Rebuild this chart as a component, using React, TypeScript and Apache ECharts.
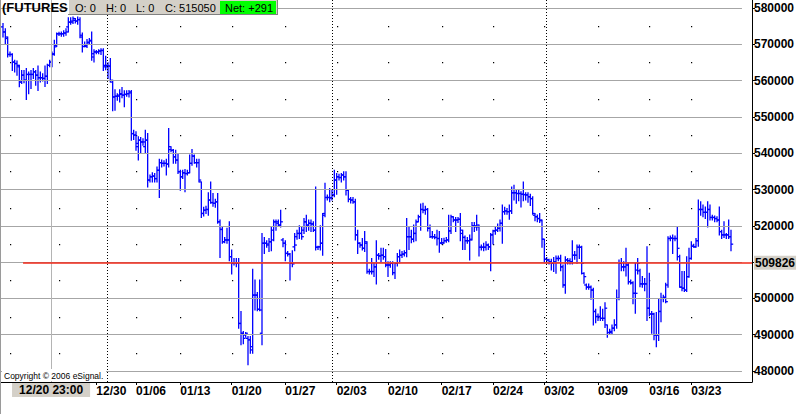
import React, { useEffect, useRef } from 'react';
import * as echarts from 'echarts';

// ---- OHLC data (one entry per bar, left to right) ----
const opens = [
  574800, 573400, 571600, 567200, 567200, 565100, 564700, 563800, 559600, 561500,
  560100, 561700, 561700, 561700, 562400, 561500, 560800, 560800, 560600, 561200,
  564200, 565100, 567400, 569700, 572900, 572900, 572900, 573100, 574800, 576100,
  576400, 576600, 576400, 576800, 572000, 569400, 569700, 570600, 571100, 567400,
  567900, 567900, 568200, 568300, 564200, 563800, 564000, 559600, 555500, 555700,
  556000, 556400, 556000, 556200, 556400, 556900, 545400, 545000, 542700, 543600,
  543100, 541800, 543600, 532600, 533500, 533700, 533000, 535300, 537400, 537200,
  537200, 537000, 541000, 540800, 539000, 538100, 534900, 533500, 534600, 534400,
  534600, 537200, 539200, 537400, 537400, 532100, 523400, 524300, 524500, 527100,
  526400, 526200, 526600, 521100, 519000, 515600, 516100, 516100, 511500, 509700,
  509800, 509700, 493100, 490400, 489900, 489000, 488600, 486700, 500900, 500900,
  497000, 490400, 515200, 515200, 514700, 515600, 518800, 521100, 520700, 520200,
  516100, 515200, 512400, 512200, 509700, 514200, 517000, 517900, 517900, 518800,
  521100, 520200, 520700, 520500, 518800, 514100, 514200, 515200, 523400, 527800,
  527800, 527700, 528500, 532600, 533500, 533300, 534000, 533500, 529800, 527300,
  527100, 526600, 517500, 515200, 514700, 513800, 515200, 507400, 507400, 507400,
  508700, 511900, 511700, 511900, 511500, 509200, 509200, 509700, 507100, 509700,
  511500, 511900, 512200, 512600, 517000, 517000, 516300, 517900, 521100, 522500,
  524500, 524300, 524500, 519300, 517000, 517000, 516800, 516500, 515300, 515300,
  515900, 516100, 518600, 522500, 521600, 521600, 521800, 517900, 516800, 515900,
  515900, 516300, 520000, 519700, 519700, 514100, 514100, 514100, 514700, 514200,
  517500, 518600, 518800, 519300, 520700, 523900, 524100, 523900, 524100, 529100,
  529100, 528900, 528900, 528700, 528600, 528500, 528000, 527500, 522900, 522500,
  522000, 521400, 516300, 510800, 510600, 510100, 509700, 510100, 511000, 511000,
  508700, 503700, 510600, 510400, 510100, 511900, 511900, 514100, 514100, 506900,
  503700, 503100, 503100, 502300, 496400, 495000, 495000, 494500, 494500, 492700,
  490600, 490900, 491800, 492700, 500000, 509700, 508700, 508700, 509200, 504600,
  504300, 501400, 507800, 507600, 504000, 504000, 504000, 497300, 495700, 495700,
  489900, 489900, 496400, 500000, 500300, 503700, 516500, 516600, 516500, 516500,
  511500, 503100, 502800, 502300, 506000, 511000, 514400, 514200, 515900, 524500,
  524500, 523700, 523700, 524500, 522300, 522300, 522000, 521600, 518400, 517500,
  517500, 517500, 517000,
];
const highs = [
  575700, 574300, 572000, 567900, 567400, 565600, 565400, 564200, 562800, 562800,
  563300, 562400, 562800, 563300, 562800, 564000, 562400, 561900, 564000, 564500,
  565600, 567900, 571100, 573100, 573300, 573400, 573700, 574300, 577300, 577300,
  577500, 577100, 577500, 577300, 573100, 570600, 571300, 571600, 573400, 568500,
  568300, 568500, 568800, 568800, 566700, 564900, 566100, 560100, 557500, 556400,
  557500, 558100, 557200, 557200, 557300, 557300, 546300, 545900, 544500, 544300,
  544000, 546300, 545400, 534000, 534600, 534400, 536200, 538300, 538100, 537900,
  538300, 546800, 541800, 541000, 540800, 539900, 535300, 535300, 535500, 535300,
  539500, 541000, 539500, 538300, 538300, 532100, 525100, 525400, 529100, 532100,
  528900, 527300, 528900, 521600, 519700, 516800, 519300, 521100, 513300, 511000,
  511000, 511000, 496400, 490900, 490600, 489500, 489500, 508000, 505100, 501600,
  505100, 517900, 516800, 515900, 516500, 519700, 521600, 521600, 521600, 524300,
  516500, 515900, 512900, 512400, 513100, 517900, 518800, 520000, 519700, 522000,
  522900, 521600, 521600, 521100, 530700, 514400, 520000, 523400, 531700, 528500,
  530300, 529800, 535300, 534400, 534200, 534400, 534900, 534900, 529800, 527800,
  527800, 527300, 518800, 515300, 516500, 518400, 515600, 508000, 511000, 509700,
  515900, 512400, 513800, 513800, 513500, 510100, 510100, 510100, 509800, 512400,
  513300, 512900, 513100, 522000, 519700, 518800, 520200, 521600, 522900, 526000,
  526200, 525400, 524800, 520200, 518400, 517600, 518800, 518400, 516500, 516600,
  516800, 522900, 522900, 522500, 522300, 522300, 523400, 518800, 517200, 516800,
  517500, 520900, 520900, 522900, 520200, 514700, 515200, 515600, 515000, 517900,
  518800, 519700, 520500, 521600, 525700, 525100, 524800, 525700, 530700, 531200,
  530000, 529800, 529400, 532100, 529100, 529100, 528700, 528000, 523400, 523000,
  523400, 521600, 516300, 511300, 510800, 510800, 511300, 511700, 511700, 511900,
  509200, 511500, 511000, 510900, 515900, 512900, 514700, 514700, 514400, 507100,
  504000, 504000, 503400, 502800, 497000, 495700, 497700, 497000, 498800, 492700,
  491500, 492700, 494100, 502300, 510600, 511000, 510100, 513800, 509700, 505100,
  504600, 509700, 511000, 508000, 506000, 505500, 514200, 506900, 496400, 495900,
  496100, 500000, 501400, 500900, 504200, 517000, 517200, 517500, 517200, 519700,
  511900, 507400, 507400, 511500, 513800, 515600, 514900, 516500, 527100, 526600,
  525700, 525200, 526600, 525700, 522900, 522700, 522500, 525200, 518800, 521100,
  517900, 521600, 518800,
];
const lows = [
  572000, 570200, 566500, 566700, 562800, 562400, 561500, 558300, 559200, 559400,
  554800, 556400, 557800, 560600, 558700, 557300, 559600, 559900, 558400, 559200,
  563800, 563800, 567000, 569400, 572400, 572200, 572200, 572500, 573400, 575500,
  575700, 575900, 575500, 571800, 567900, 569300, 569100, 570200, 565600, 565100,
  567400, 567400, 567200, 562800, 563000, 560600, 559600, 551700, 551800, 554600,
  554100, 555300, 552800, 555700, 555500, 543600, 543800, 540800, 538100, 539900,
  542200, 539900, 530700, 532100, 532100, 532100, 532100, 527800, 536200, 536500,
  534000, 536200, 540400, 537200, 537200, 534400, 529800, 533000, 529400, 534000,
  534600, 536700, 537200, 536200, 532100, 522300, 522700, 523400, 522900, 526200,
  525400, 525100, 520700, 511300, 515200, 515300, 515200, 510400, 506700, 509200,
  508700, 491800, 487200, 487500, 489300, 481700, 484900, 484900, 496800, 496600,
  496600, 487200, 512400, 514100, 512900, 513100, 515900, 518800, 520000, 519700,
  514200, 510400, 511700, 505100, 508700, 513100, 516300, 516500, 516300, 517900,
  518400, 518800, 518400, 518400, 513300, 513500, 513300, 511900, 522500, 527100,
  526600, 527100, 528000, 528700, 532600, 532100, 532600, 528500, 526600, 526300,
  526200, 516100, 512400, 514100, 513300, 512900, 506900, 506700, 506700, 506000,
  504000, 510800, 510100, 510800, 508700, 506000, 508600, 506500, 505500, 508900,
  509800, 511300, 511700, 511500, 513500, 515300, 515600, 515900, 521100, 518800,
  523600, 523200, 518600, 516800, 516600, 516400, 514700, 512700, 515000, 515200,
  515500, 515600, 517900, 521100, 518400, 520900, 515900, 513500, 513500, 515200,
  510600, 516100, 518400, 518800, 511700, 513300, 513100, 513300, 513500, 507600,
  515000, 517700, 518400, 518600, 515200, 523200, 523200, 521800, 523400, 527100,
  526200, 526900, 525200, 526900, 527100, 526500, 525600, 523200, 521400, 521100,
  520900, 514100, 509800, 509800, 509500, 507800, 507400, 506900, 510400, 507600,
  503100, 501400, 509500, 509500, 509500, 510800, 509700, 511000, 506700, 504200,
  502500, 502500, 499800, 492700, 493300, 493900, 493900, 493900, 492000, 489300,
  490200, 490200, 491100, 491800, 499600, 507600, 507600, 506200, 504000, 504000,
  498500, 495900, 506700, 503200, 503100, 502100, 493900, 495200, 490400, 488600,
  486700, 488400, 493600, 499100, 498800, 503100, 515900, 512400, 515900, 510600,
  503100, 502100, 501900, 501900, 505800, 510800, 514100, 514100, 514400, 522900,
  522500, 522000, 519700, 521600, 521600, 521100, 521100, 517500, 516500, 516800,
  516500, 516500, 513100,
];
const closes = [
  573400, 572000, 567200, 567200, 565100, 564700, 564200, 559600, 561500, 560100,
  561700, 561700, 561700, 562400, 561500, 560800, 560800, 560600, 561200, 564200,
  565100, 567200, 569300, 572900, 572900, 572900, 573100, 573400, 576100, 576100,
  577100, 576400, 576800, 572500, 569400, 569400, 570400, 570900, 566500, 567900,
  567900, 568100, 568300, 563800, 564200, 564000, 560100, 555500, 555700, 555700,
  556200, 556000, 556200, 556400, 556600, 545400, 545000, 541800, 543600, 543100,
  543100, 543600, 532600, 533500, 533700, 533000, 535300, 537400, 537200, 537200,
  537000, 541800, 540800, 539000, 538100, 534900, 533500, 534600, 534400, 534600,
  537200, 539200, 537400, 537400, 532600, 523400, 524300, 524500, 527100, 526400,
  526200, 526600, 521100, 519000, 515600, 516100, 516100, 511500, 509700, 509800,
  509700, 493100, 490400, 489000, 490400, 488600, 485800, 500900, 500900, 497000,
  496800, 515200, 515200, 515000, 515600, 516100, 521100, 521100, 520200, 521100,
  515200, 512400, 512200, 509700, 509500, 514700, 517900, 517900, 517000, 521100,
  520200, 520700, 520500, 518800, 514100, 514200, 515200, 522900, 527800, 527800,
  527700, 528500, 532600, 533500, 533300, 534000, 533500, 529800, 527300, 527100,
  526600, 517500, 515200, 514700, 513800, 515600, 507400, 507400, 507400, 508700,
  511900, 511700, 511900, 511500, 509200, 509200, 509700, 507100, 509700, 511500,
  511900, 512200, 512600, 517000, 517000, 516300, 517900, 521100, 522500, 524500,
  524300, 524500, 519300, 517000, 517000, 516800, 516500, 515200, 515300, 515900,
  516100, 518600, 522500, 521600, 521600, 521800, 518800, 516800, 515900, 515900,
  516100, 520000, 520000, 520200, 514100, 514100, 514100, 514700, 514200, 517500,
  518600, 518800, 519300, 520700, 523900, 524100, 523900, 524100, 529100, 529100,
  528900, 528900, 528700, 528600, 528500, 528000, 527500, 523400, 522500, 522000,
  521600, 516300, 510800, 510600, 510100, 509700, 510100, 511000, 511000, 508700,
  503700, 510600, 510400, 510100, 511900, 511900, 514100, 514100, 509700, 506000,
  503100, 503100, 502300, 496400, 495000, 495000, 494500, 494500, 497300, 490600,
  490600, 491800, 492700, 500000, 509700, 508700, 508700, 509200, 504600, 504300,
  501400, 501400, 509700, 504000, 504000, 504000, 497300, 495700, 495700, 489900,
  489900, 496400, 500000, 500300, 499100, 516500, 516600, 516500, 516500, 513800,
  503100, 502800, 502300, 506000, 511000, 514400, 514200, 515900, 524500, 524500,
  523700, 523700, 524500, 522300, 522300, 522000, 521600, 518400, 517500, 517500,
  517500, 517000, 514941,
];

// ---- axes / annotations ----
const weekTicks = [40, 57, 76, 98, 121, 143, 165, 188, 210, 232, 255, 277, 295];
const weekLabels = ['12/30', '01/06', '01/13', '01/20', '01/27', '02/03', '02/10', '02/17', '02/24', '03/02', '03/09', '03/16', '03/23'];
const dotColumns = [3, 24, 57, 76, 98, 121, 143, 165, 188, 210, 232, 255, 277, 295];
const priceLevels = [480000, 490000, 500000, 510000, 520000, 530000, 540000, 550000, 560000, 570000, 580000];
const labelLevels = [480000, 490000, 500000, 520000, 530000, 540000, 550000, 560000, 570000, 580000];
const midLevels = [485000, 495000, 505000, 515000, 525000, 535000, 545000, 555000, 565000, 575000];
const monthBreaks = [44.6, 141, 232.7];
const cursorIndex = 20.6;
const cursorLabel = '12/20 23:00';
const refStartIndex = 8.6;
const refPrice = 509826;
const lastPrice = 514941;
const headerTitle = '(FUTURES;';
const headerFields = ['O: 0', 'H: 0', 'L: 0', 'C: 515050'];
const netText = 'Net: +291';
const copyrightText = 'Copyright \u00a9 2006 eSignal.';

const X_MIN = -1.286;
const X_MAX = 321.0;
const Y_MIN = 476970;
const Y_MAX = 582204;
const GRID_START = -1.1;
const GRID_END = 316.7;
const FONT = 'Liberation Sans, Arial, Helvetica, sans-serif';

export default function App() {
  const ref = useRef<HTMLDivElement>(null);

  useEffect(() => {
    if (!ref.current) return;
    const chart = echarts.init(ref.current, undefined, { renderer: 'svg' });

    const bars = opens.map((o, i) => [i, o, highs[i], lows[i], closes[i]]);
    const dots: number[][] = [];
    dotColumns.forEach((c) => midLevels.forEach((m) => dots.push([c, m])));

    const blue = '#0000ff';
    const dotted = { color: '#000', type: [1, 2], width: 1 };
    const option: any = {
      animation: false,
      grid: { left: 0, right: 46, top: 0, bottom: 32, containLabel: false },
      xAxis: {
        type: 'value',
        min: X_MIN,
        max: X_MAX,
        splitLine: { show: false },
        axisLine: { show: true, onZero: false, lineStyle: { color: '#000', width: 1 } },
        axisTick: { show: true, customValues: weekTicks, length: 3, lineStyle: { color: '#000' } },
        axisLabel: {
          show: true,
          customValues: weekTicks,
          formatter: (v: number) => {
            const k = weekTicks.indexOf(Math.round(v));
            return k >= 0 ? weekLabels[k] : '';
          },
          align: 'left',
          margin: 3,
          color: '#000',
          fontWeight: 'bold',
          fontSize: 12,
          fontFamily: FONT,
        },
      },
      yAxis: {
        type: 'value',
        position: 'right',
        min: Y_MIN,
        max: Y_MAX,
        splitLine: { show: false },
        axisLine: { show: true, onZero: false, lineStyle: { color: '#000', width: 1 } },
        axisTick: { show: true, customValues: priceLevels, length: 3, lineStyle: { color: '#000' } },
        axisLabel: {
          show: true,
          customValues: labelLevels,
          formatter: (v: number) => String(Math.round(v)),
          margin: 2,
          color: '#000',
          fontWeight: 'bold',
          fontSize: 12,
          fontFamily: FONT,
        },
      },
      series: [
        {
          type: 'custom',
          name: 'dots',
          data: dots,
          encode: { x: 0, y: 1 },
          silent: true,
          z: 1,
          renderItem: (params: any, api: any) => {
            const p = api.coord([api.value(0), api.value(1)]);
            return {
              type: 'rect',
              shape: { x: Math.round(p[0]), y: Math.round(p[1]), width: 1.2, height: 1.2 },
              style: { fill: '#000' },
            };
          },
        },
        {
          type: 'scatter',
          name: 'markers',
          data: [[cursorIndex, lastPrice]],
          symbolSize: 0,
          itemStyle: { opacity: 0 },
          silent: true,
          z: 2,
          markLine: {
            silent: true,
            symbol: 'none',
            animation: false,
            label: { show: false },
            lineStyle: dotted,
            data: [
              ...priceLevels.map((v) => [
                { coord: [GRID_START, v], lineStyle: { color: '#a6a6a6', type: 'solid', width: 1 } },
                { coord: [GRID_END, v] },
              ]),
              ...monthBreaks.map((m) => ({ xAxis: m })),
              {
                xAxis: cursorIndex,
                lineStyle: { color: '#b4b4b4', type: 'solid', width: 1 },
                label: {
                  show: true,
                  position: 'start',
                  formatter: cursorLabel,
                  distance: 1,
                  color: '#000',
                  fontWeight: 'bold',
                  fontSize: 12,
                  fontFamily: FONT,
                  backgroundColor: '#d4d0c8',
                  padding: [1, 7, 1, 7],
                },
              },
              [
                {
                  coord: [refStartIndex, refPrice],
                  lineStyle: { color: '#f02818', type: 'solid', width: 1.5 },
                  label: {
                    show: true,
                    position: 'end',
                    formatter: String(refPrice),
                    distance: 2,
                    color: '#000',
                    fontWeight: 'bold',
                    fontSize: 12,
                    fontFamily: FONT,
                    backgroundColor: '#d4d0c8',
                    padding: [1, 1, 1, 1],
                  },
                },
                { coord: [X_MAX, refPrice] },
              ],
              {
                yAxis: lastPrice,
                lineStyle: { opacity: 0, width: 0 },
                label: {
                  show: true,
                  position: 'end',
                  formatter: String(lastPrice),
                  distance: 1,
                  color: '#fff',
                  fontWeight: 'bold',
                  fontSize: 12,
                  fontFamily: FONT,
                  backgroundColor: blue,
                  padding: [1, 1, 1, 1],
                },
              },
            ],
          },
        },
        {
          type: 'custom',
          name: 'FUTURES',
          data: bars,
          encode: { x: 0, y: [1, 2, 3, 4] },
          z: 3,
          silent: true,
          renderItem: (params: any, api: any) => {
            const i = api.value(0);
            const pO = api.coord([i, api.value(1)]);
            const pH = api.coord([i, api.value(2)]);
            const pL = api.coord([i, api.value(3)]);
            const pC = api.coord([i, api.value(4)]);
            const st = { stroke: blue, lineWidth: 1.3 };
            const w = 2.2;
            return {
              type: 'group',
              children: [
                { type: 'line', shape: { x1: pH[0], y1: pH[1] - 0.5, x2: pL[0], y2: pL[1] + 0.5 }, style: st },
                { type: 'line', shape: { x1: pO[0] - w, y1: pO[1], x2: pO[0], y2: pO[1] }, style: st },
                { type: 'line', shape: { x1: pC[0], y1: pC[1], x2: pC[0] + w, y2: pC[1] }, style: st },
              ],
            };
          },
        },
      ],
      graphic: [
        { type: 'rect', z: 50, shape: { x: 0, y: 0, width: 1, height: 414 }, style: { fill: '#9a9a9a' } },
        {
          type: 'text', z: 50, x: 2, y: 1,
          style: { text: headerTitle, fill: '#000', font: `bold 13px ${FONT}`, textVerticalAlign: 'top' },
        },
        { type: 'rect', z: 51, shape: { x: 68, y: 0, width: 210, height: 15 }, style: { fill: '#d4d0c8' } },
        { type: 'line', z: 52, shape: { x1: 68.5, y1: 0, x2: 68.5, y2: 15 }, style: { stroke: '#ffffff', lineWidth: 1 } },
        { type: 'line', z: 52, shape: { x1: 68, y1: 14.5, x2: 278, y2: 14.5 }, style: { stroke: '#808080', lineWidth: 1 } },
        { type: 'line', z: 52, shape: { x1: 277.5, y1: 0, x2: 277.5, y2: 15 }, style: { stroke: '#808080', lineWidth: 1 } },
        { type: 'rect', z: 52, shape: { x: 220, y: 1, width: 56, height: 13 }, style: { fill: '#00ff00' } },
        ...headerFields.map((t, k) => ({
          type: 'text', z: 53, x: [75, 106, 136, 165][k], y: 7.5,
          style: { text: t, fill: '#000', font: `11px ${FONT}`, textVerticalAlign: 'middle' },
        })),
        {
          type: 'text', z: 53, x: 225, y: 7.5,
          style: { text: netText, fill: '#000', font: `11px ${FONT}`, textVerticalAlign: 'middle' },
        },
        { type: 'rect', z: 50, shape: { x: 2, y: 369, width: 104, height: 12 }, style: { fill: '#ffffff' } },
        {
          type: 'text', z: 51, x: 4, y: 375.5,
          style: { text: copyrightText, fill: '#000', font: `8.5px ${FONT}`, textVerticalAlign: 'middle' },
        },
      ],
    };

    chart.setOption(option);
    return () => chart.dispose();
  }, []);

  return (
    <div
      ref={ref}
      style={{ position: 'absolute', left: 0, top: 0, width: 798, height: 414, background: '#ffffff' }}
    />
  );
}
